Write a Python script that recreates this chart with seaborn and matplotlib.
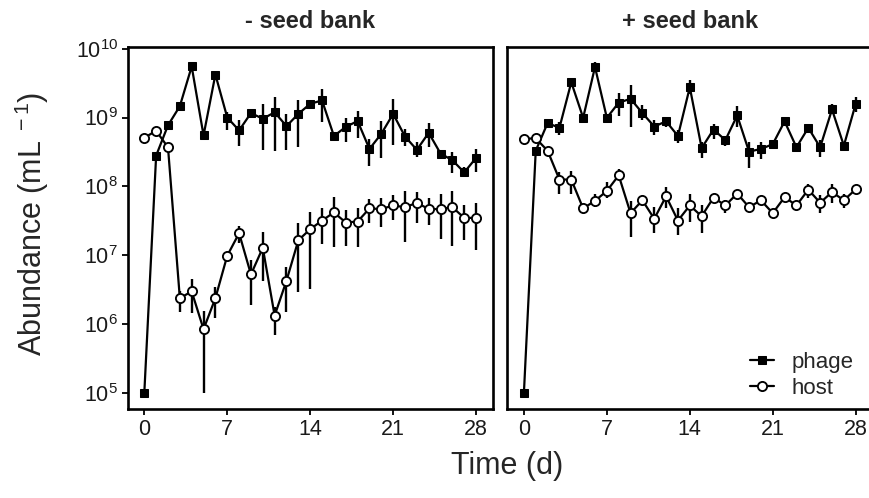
import numpy as np
import pandas as pd
import matplotlib
matplotlib.use("Agg")
import matplotlib.pyplot as plt
import matplotlib.ticker as mticker
import seaborn as sns

# ---------------- data ----------------
days = list(range(29))
panels = ["- seed bank", "+ seed bank"]

phage_no = [1e5, 2.8e8, 7.7e8, 1.46e9, 5.5e9, 5.5e8, 4.2e9, 1.0e9, 6.5e8, 1.16e9, 9.6e8, 1.19e9, 7.5e8, 1.13e9,
            1.58e9, 1.77e9, 5.4e8, 7.3e8, 8.9e8, 3.5e8, 5.8e8, 1.13e9, 5.3e8, 3.4e8, 6.0e8, 3.0e8, 2.4e8, 1.6e8, 2.6e8]
phage_no_lo = [1e5, 2.8e8, 6.6e8, 1.46e9, 5.5e9, 5.5e8, 4.2e9, 6.7e8, 3.8e8, 1.05e9, 3.4e8, 3.3e8, 3.4e8, 3.7e8,
               1.36e9, 8.6e8, 5.4e8, 4.4e8, 5.1e8, 2.0e8, 2.6e8, 4.0e8, 3.8e8, 2.7e8, 3.7e8, 3.0e8, 1.57e8, 1.35e8, 1.62e8]
phage_no_hi = [1e5, 2.8e8, 9.0e8, 1.46e9, 5.5e9, 5.5e8, 4.2e9, 1.2e9, 9.1e8, 1.3e9, 1.58e9, 1.97e9, 1.11e9, 1.81e9,
               1.77e9, 2.6e9, 5.4e8, 9.7e8, 1.24e9, 4.8e8, 8.8e8, 1.83e9, 6.9e8, 4.4e8, 8.3e8, 3.0e8, 3.2e8, 1.9e8, 3.5e8]

host_no = [5.1e8, 6.4e8, 3.7e8, 2.4e6, 3.0e6, 8.5e5, 2.4e6, 9.9e6, 2.1e7, 5.3e6, 1.29e7, 1.34e6, 4.3e6, 1.66e7,
           2.4e7, 3.2e7, 4.2e7, 3.0e7, 3.1e7, 4.8e7, 4.7e7, 5.3e7, 5.0e7, 5.8e7, 4.7e7, 4.7e7, 5.0e7, 3.5e7, 3.5e7]
host_no_lo = [5.1e8, 6.4e8, 3.7e8, 1.53e6, 1.48e6, 1.0e5, 1.22e6, 9.9e6, 1.5e7, 1.9e6, 4.2e6, 6.9e5, 1.53e6, 2.9e6,
              3.3e6, 1.44e7, 1.31e7, 1.38e7, 1.33e7, 3.0e7, 2.6e7, 3.3e7, 1.54e7, 3.0e7, 2.8e7, 1.74e7, 1.36e7, 1.66e7, 1.19e7]
host_no_hi = [5.1e8, 6.4e8, 3.7e8, 3.0e6, 4.5e6, 1.58e6, 3.5e6, 9.9e6, 2.7e7, 8.6e6, 2.15e7, 1.8e6, 6.8e6, 3.0e7,
              4.3e7, 4.8e7, 7.0e7, 4.6e7, 4.8e7, 6.5e7, 6.8e7, 7.5e7, 8.5e7, 8.3e7, 6.7e7, 7.7e7, 8.6e7, 5.3e7, 5.7e7]

phage_sb = [1e5, 3.3e8, 8.3e8, 7.1e8, 3.25e9, 9.9e8, 5.4e9, 9.9e8, 1.64e9, 1.87e9, 1.16e9, 7.4e8, 8.8e8, 5.4e8,
            2.75e9, 3.6e8, 6.7e8, 4.7e8, 1.07e9, 3.2e8, 3.5e8, 4.1e8, 8.8e8, 3.7e8, 7.1e8, 3.7e8, 1.31e9, 3.9e8, 1.58e9]
phage_sb_lo = [1e5, 3.3e8, 8.3e8, 5.6e8, 3.25e9, 9.9e8, 4.5e9, 9.9e8, 1.04e9, 7.4e8, 9.3e8, 5.6e8, 7.3e8, 4.3e8,
               2.2e9, 2.6e8, 4.9e8, 3.8e8, 7.4e8, 1.85e8, 2.5e8, 4.1e8, 8.8e8, 3.7e8, 7.1e8, 2.7e8, 1.11e9, 3.9e8, 1.2e9]
phage_sb_hi = [1e5, 3.3e8, 8.3e8, 8.6e8, 3.25e9, 9.9e8, 6.3e9, 9.9e8, 2.3e9, 3.0e9, 1.5e9, 9.3e8, 1.0e9, 6.5e8,
               3.5e9, 4.4e8, 8.1e8, 5.3e8, 1.45e9, 4.4e8, 4.4e8, 4.1e8, 8.8e8, 3.7e8, 7.1e8, 4.7e8, 1.58e9, 3.9e8, 1.97e9]

host_sb = [4.9e8, 5.0e8, 3.3e8, 1.26e8, 1.26e8, 4.8e7, 6.2e7, 8.6e7, 1.45e8, 4.1e7, 6.3e7, 3.4e7, 7.2e7, 3.2e7,
           5.3e7, 3.7e7, 6.9e7, 5.3e7, 7.9e7, 5.0e7, 6.3e7, 4.1e7, 7.0e7, 5.3e7, 9.0e7, 5.8e7, 8.3e7, 6.3e7, 9.1e7]
host_sb_lo = [4.9e8, 5.0e8, 3.3e8, 7.9e7, 7.9e7, 4.8e7, 5.0e7, 6.7e7, 1.23e8, 1.86e7, 6.3e7, 2.1e7, 4.8e7, 2.0e7,
              3.1e7, 2.1e7, 6.9e7, 4.1e7, 7.9e7, 5.0e7, 5.5e7, 4.1e7, 7.0e7, 5.3e7, 6.7e7, 4.1e7, 5.7e7, 4.8e7, 9.1e7]
host_sb_hi = [4.9e8, 5.0e8, 3.3e8, 1.62e8, 1.7e8, 4.8e7, 7.7e7, 1.16e8, 1.8e8, 6.1e7, 6.3e7, 5.0e7, 9.8e7, 4.8e7,
              7.7e7, 5.3e7, 6.9e7, 6.3e7, 7.9e7, 5.0e7, 7.0e7, 4.1e7, 7.0e7, 5.3e7, 1.1e8, 7.5e7, 1.08e8, 7.7e7, 9.1e7]

x_ticks = [0, 7, 14, 21, 28]

# ---------------- tidy table ----------------
rows = []
series = {
    ("- seed bank", "phage"): (phage_no, phage_no_lo, phage_no_hi),
    ("- seed bank", "host"): (host_no, host_no_lo, host_no_hi),
    ("+ seed bank", "phage"): (phage_sb, phage_sb_lo, phage_sb_hi),
    ("+ seed bank", "host"): (host_sb, host_sb_lo, host_sb_hi),
}
for (panel, kind), (m, lo, hi) in series.items():
    for d, a, b, c in zip(days, m, lo, hi):
        rows.append(dict(panel=panel, type=kind, day=d, abundance=a, lo=b, hi=c))
df = pd.DataFrame(rows)

# ---------------- style ----------------
sns.set_style("ticks")
plt.rcParams["font.family"] = ["Liberation Sans", "DejaVu Sans"]
plt.rcParams["mathtext.fontset"] = "custom"
plt.rcParams["mathtext.rm"] = "Liberation Sans"
plt.rcParams["mathtext.it"] = "Liberation Sans:italic"
plt.rcParams["mathtext.bf"] = "Liberation Sans:bold"

W, H = 869, 498
fig = plt.figure(figsize=(W / 100, H / 100), dpi=100)
ax_l, ax_b = 127.7, 409.3
ax_w, ax_h = 365.0, 409.3 - 46.5
axes = [fig.add_axes([ax_l / W, 1 - ax_b / H, ax_w / W, ax_h / H]),
        fig.add_axes([507.3 / W, 1 - ax_b / H, ax_w / W, ax_h / H])]

styles = {
    "phage": dict(marker="s", markersize=5.6, markerfacecolor="black", markeredgecolor="black"),
    "host": dict(marker="o", markersize=6.6, markerfacecolor="white", markeredgecolor="black",
                 markeredgewidth=1.35),
}

for ax, panel in zip(axes, panels):
    sub = df[df.panel == panel]
    for kind in ["phage", "host"]:
        s = sub[sub.type == kind]
        ax.vlines(s["day"], s["lo"], s["hi"], color="black", linewidth=1.7, zorder=2)
        sns.lineplot(data=s, x="day", y="abundance", ax=ax, color="black", linewidth=1.6,
                     estimator=None, sort=False, label=kind, zorder=3, **styles[kind])
    ax.set_yscale("log")
    ax.set_ylim(10 ** 4.768, 10 ** 10.03)
    ax.set_xlim(-1.4, 29.4)
    ax.set_xticks(x_ticks)
    ax.yaxis.set_major_locator(mticker.LogLocator(base=10, numticks=20))
    ax.yaxis.set_minor_locator(mticker.NullLocator())
    ax.set_xlabel("")
    ax.set_ylabel("")
    for sp in ax.spines.values():
        sp.set_visible(True)
        sp.set_linewidth(1.9)
        sp.set_color("black")
    ax.tick_params(axis="both", which="major", length=4, width=1.3, color="black",
                   labelsize=15.5, pad=3, labelcolor="#1a1a1a")
    ax.set_title(panel, fontsize=17, fontweight="bold", pad=13)
    if ax.get_legend() is not None:
        ax.get_legend().remove()

axes[1].tick_params(axis="y", left=False, labelleft=False)

handles, labels = axes[1].get_legend_handles_labels()
axes[1].legend(handles, labels, loc="lower right", bbox_to_anchor=(0.99, -0.015), frameon=False,
               fontsize=16, handlelength=1.1, handletextpad=0.75, labelspacing=0.25, borderpad=0.2)

fig.text(507 / W, 1 - 466 / H, "Time (d)", ha="center", va="center", fontsize=22)
fig.text(32 / W, 1 - 224 / H, r"Abundance (mL$^{\ -1}$)", ha="center", va="center",
         rotation=90, fontsize=22)

fig.savefig("out.png", dpi=100)
